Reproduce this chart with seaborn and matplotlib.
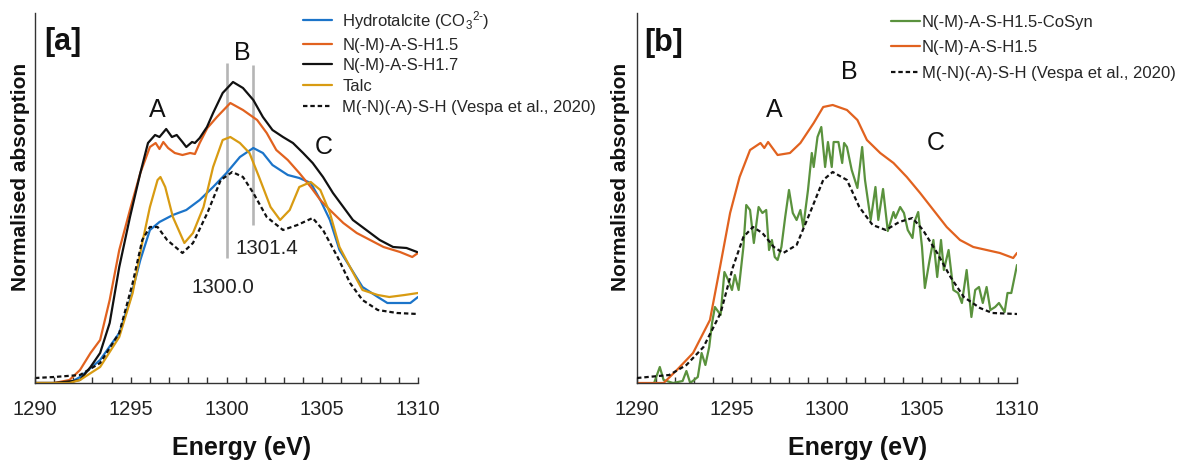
import matplotlib
matplotlib.use("Agg")
import matplotlib.pyplot as plt
import seaborn as sns
import pandas as pd
from matplotlib.ticker import MultipleLocator
from matplotlib.lines import Line2D

# ---------------- data: panel [a] ----------------
hydro_x = [1290, 1291, 1291.8, 1292.35, 1293.4, 1294.4, 1294.96, 1295.5, 1296.0, 1296.5, 1297.2, 1297.9,
           1298.6, 1299.3, 1300.0, 1300.7, 1301.4, 1301.9, 1302.4, 1303.2, 1303.8, 1304.4, 1304.9, 1305.4,
           1305.9, 1306.45, 1307.1, 1307.9, 1308.4, 1309.06, 1309.6, 1310]
hydro_y = [0.0, 0.0, 0.0, 0.06, 0.23, 0.50, 0.83, 1.23, 1.53, 1.61, 1.68, 1.73,
           1.83, 1.96, 2.10, 2.26, 2.35, 2.30, 2.18, 2.08, 2.05, 2.00, 1.83, 1.63,
           1.33, 1.16, 0.96, 0.86, 0.80, 0.80, 0.80, 0.86]

h15a_x = [1290, 1291, 1291.8, 1292.35, 1292.9, 1293.4, 1293.9, 1294.4, 1295.0, 1295.5, 1296.0, 1296.3,
          1296.5, 1296.7, 1296.95, 1297.3, 1297.7, 1298.1, 1298.35, 1298.6, 1299.0, 1299.5, 1300.2,
          1300.86, 1301.6, 1302.1, 1302.6, 1303.2, 1303.8, 1304.4, 1304.9, 1305.4, 1306.1, 1306.8,
          1307.5, 1308.2, 1309.06, 1309.7, 1310]
h15a_y = [0.0, 0.0, 0.03, 0.13, 0.30, 0.43, 0.83, 1.33, 1.76, 2.10, 2.36, 2.40,
          2.34, 2.41, 2.35, 2.30, 2.28, 2.30, 2.29, 2.40, 2.55, 2.66, 2.80,
          2.73, 2.63, 2.50, 2.33, 2.23, 2.10, 1.96, 1.83, 1.73, 1.60, 1.50,
          1.43, 1.36, 1.31, 1.26, 1.30]

h17_x = [1290, 1291, 1292, 1292.35, 1292.9, 1293.4, 1293.9, 1294.4, 1294.96, 1295.5, 1295.9, 1296.27,
         1296.5, 1296.85, 1297.15, 1297.4, 1297.7, 1297.9, 1298.2, 1298.35, 1298.6, 1298.98, 1299.3,
         1299.8, 1300.34, 1300.86, 1301.4, 1301.9, 1302.4, 1302.95, 1303.47, 1304.0, 1304.5, 1305.04,
         1305.56, 1306.1, 1306.6, 1307.3, 1308.0, 1308.7, 1309.4, 1309.95]
h17_y = [0.0, 0.0, 0.02, 0.03, 0.16, 0.30, 0.60, 1.16, 1.66, 2.10, 2.40, 2.48,
         2.46, 2.54, 2.46, 2.48, 2.41, 2.36, 2.41, 2.40, 2.45, 2.56, 2.70,
         2.90, 3.01, 2.95, 2.83, 2.66, 2.53, 2.46, 2.40, 2.30, 2.20, 2.06,
         1.90, 1.76, 1.63, 1.53, 1.43, 1.36, 1.35, 1.31]

talc_x = [1290, 1291, 1291.8, 1292.35, 1293.4, 1294.4, 1295.1, 1295.6, 1296.0, 1296.4, 1296.55, 1296.8,
          1297.2, 1297.8, 1298.25, 1298.8, 1299.3, 1299.8, 1300.2, 1300.7, 1301.2, 1301.7, 1302.3,
          1302.8, 1303.3, 1303.8, 1304.4, 1304.9, 1305.4, 1305.9, 1306.45, 1307.1, 1307.9, 1308.5,
          1309.3, 1310]
talc_y = [0.0, 0.0, 0.0, 0.03, 0.16, 0.46, 0.90, 1.40, 1.76, 2.03, 2.06, 1.96,
          1.66, 1.40, 1.50, 1.76, 2.16, 2.43, 2.46, 2.40, 2.30, 2.06, 1.76,
          1.63, 1.73, 1.96, 2.01, 1.93, 1.70, 1.36, 1.16, 0.93, 0.88, 0.86,
          0.88, 0.90]

ref_a_x = [1290, 1291, 1292.35, 1293.4, 1294.4, 1295.1, 1295.6, 1296.0, 1296.4, 1296.9, 1297.7, 1298.25,
           1299.0, 1299.7, 1300.3, 1300.86, 1301.4, 1302.1, 1302.95, 1303.7, 1304.5, 1305.04, 1305.8,
           1306.45, 1307.1, 1307.9, 1308.9, 1310]
ref_a_y = [0.05, 0.06, 0.08, 0.20, 0.50, 1.00, 1.43, 1.56, 1.56, 1.43, 1.30, 1.40,
           1.70, 2.03, 2.11, 2.06, 1.90, 1.66, 1.53, 1.58, 1.65, 1.53, 1.26,
           1.00, 0.83, 0.73, 0.70, 0.69]

# ---------------- data: panel [b] ----------------
cosyn_x = [1290.9, 1291.2, 1291.4, 1291.9, 1292.4, 1292.6, 1292.8, 1293.2, 1293.4, 1293.6, 1293.8, 1293.95,
           1294.1, 1294.4, 1294.6, 1294.8, 1295.0, 1295.15, 1295.35, 1295.6, 1295.75, 1295.95, 1296.15,
           1296.4, 1296.6, 1296.8, 1296.95, 1297.1, 1297.25, 1297.4, 1297.6, 1297.8, 1298.0, 1298.2,
           1298.4, 1298.6, 1298.75, 1299.0, 1299.2, 1299.3, 1299.5, 1299.7, 1299.9, 1300.05, 1300.25,
           1300.35, 1300.6, 1300.8, 1300.9, 1301.05, 1301.3, 1301.6, 1301.85, 1302.0, 1302.3, 1302.55,
           1302.7, 1302.95, 1303.2, 1303.5, 1303.6, 1303.85, 1304.05, 1304.25, 1304.5, 1304.6, 1304.8,
           1305.0, 1305.15, 1305.4, 1305.6, 1305.8, 1306.0, 1306.15, 1306.4, 1306.65, 1306.9, 1307.1,
           1307.35, 1307.6, 1307.8, 1308.0, 1308.2, 1308.4, 1308.6, 1308.85, 1309.05, 1309.35, 1309.5,
           1309.7, 1310.0]
cosyn_y = [0.0, 0.16, 0.03, 0.0, 0.02, 0.12, 0.0, 0.06, 0.30, 0.18, 0.36, 0.60,
           0.76, 0.68, 1.11, 1.03, 0.93, 1.08, 0.93, 1.36, 1.78, 1.73, 1.40,
           1.76, 1.70, 1.73, 1.33, 1.43, 1.26, 1.23, 1.36, 1.66, 1.93, 1.70,
           1.63, 1.73, 1.56, 1.93, 2.30, 2.16, 2.46, 2.56, 2.16, 2.41, 2.16,
           2.41, 2.41, 2.20, 2.40, 2.36, 2.13, 1.95, 2.36, 2.03, 1.63, 1.96,
           1.63, 1.94, 1.52, 1.71, 1.65, 1.76, 1.70, 1.53, 1.45, 1.61, 1.71,
           1.36, 0.95, 1.23, 1.43, 1.06, 1.43, 1.13, 1.33, 0.93, 0.90, 0.80,
           1.13, 0.66, 0.93, 0.96, 0.80, 0.96, 0.73, 0.76, 0.80, 0.71, 0.90,
           0.90, 1.18]

h15b_x = [1290, 1290.7, 1291.4, 1292.1, 1292.95, 1293.84, 1294.37, 1294.9, 1295.4, 1295.95, 1296.5, 1296.7,
          1296.9, 1297.4, 1298.05, 1298.6, 1299.3, 1299.8, 1300.3, 1301.05, 1301.6, 1302.1, 1302.8,
          1303.5, 1304.2, 1304.9, 1305.6, 1306.3, 1307.0, 1307.7, 1308.4, 1309.1, 1309.8, 1310]
h15b_y = [0.0, 0.0, 0.0, 0.13, 0.30, 0.63, 1.16, 1.70, 2.06, 2.33, 2.40, 2.35,
          2.41, 2.28, 2.30, 2.40, 2.60, 2.76, 2.78, 2.73, 2.63, 2.43, 2.30,
          2.20, 2.06, 1.90, 1.73, 1.56, 1.43, 1.36, 1.33, 1.30, 1.25, 1.30]

ref_b_x = [1290, 1291.7, 1292.6, 1293.5, 1294.4, 1295.05, 1295.6, 1296.1, 1296.6, 1297.2, 1297.7, 1298.4,
           1299.1, 1299.8, 1300.3, 1301.05, 1301.7, 1302.4, 1303.1, 1303.8, 1304.5, 1305.05, 1305.8,
           1306.5, 1307.2, 1308.05, 1308.7, 1310]
ref_b_y = [0.05, 0.08, 0.18, 0.36, 0.70, 1.16, 1.46, 1.56, 1.50, 1.36, 1.30, 1.38,
           1.70, 2.03, 2.11, 2.03, 1.76, 1.58, 1.53, 1.61, 1.65, 1.53, 1.30,
           1.06, 0.86, 0.75, 0.70, 0.69]

labels_a = ["Hydrotalcite (CO$_3$$^{2\u2010}$)", "N(-M)-A-S-H1.5", "N(-M)-A-S-H1.7", "Talc",
            "M(-N)(-A)-S-H (Vespa et al., 2020)"]
labels_b = ["N(-M)-A-S-H1.5-CoSyn", "N(-M)-A-S-H1.5", "M(-N)(-A)-S-H (Vespa et al., 2020)"]
marker_lines = [1300.0, 1301.4]
marker_texts = ["1300.0", "1301.4"]
x_ticks = [1290, 1295, 1300, 1305, 1310]

BLUE = "#1b74c9"
ORANGE = "#e1621f"
BLACK = "#111111"
GOLD = "#d89b12"
GREEN = "#5a923d"

sns.set_theme(style="white")
plt.rcParams["font.family"] = ["Liberation Sans", "DejaVu Sans"]
plt.rcParams["mathtext.fontset"] = "custom"
plt.rcParams["mathtext.rm"] = "Liberation Sans"
plt.rcParams["mathtext.it"] = "Liberation Sans:italic"
plt.rcParams["mathtext.bf"] = "Liberation Sans:bold"

W, H = 1184, 461
fig = plt.figure(figsize=(W / 100, H / 100), dpi=100)
ax_a = fig.add_axes([35 / W, 78 / H, 383 / W, 370 / H])
ax_b = fig.add_axes([637 / W, 78 / H, 380 / W, 370 / H])

LW = 1.6
DASH = (2.0, 1.3)


def draw(ax, xs, ys, color, dashed=False, z=2):
    df = pd.DataFrame({"x": xs, "y": ys})
    sns.lineplot(data=df, x="x", y="y", ax=ax, color=color, linewidth=LW, estimator=None,
                 sort=False, zorder=z, legend=False)
    line = ax.get_lines()[-1]
    if dashed:
        line.set_dashes(DASH)
    return line


# panel a
draw(ax_a, hydro_x, hydro_y, BLUE)
draw(ax_a, h15a_x, h15a_y, ORANGE)
draw(ax_a, h17_x, h17_y, BLACK)
draw(ax_a, talc_x, talc_y, GOLD)
draw(ax_a, ref_a_x, ref_a_y, BLACK, dashed=True)

ax_a.vlines(marker_lines[0], 1.25, 3.20, color="#b5b5b5", linewidth=1.9, zorder=1)
ax_a.vlines(marker_lines[1], 1.58, 3.18, color="#b5b5b5", linewidth=1.9, zorder=1)
ax_a.text(1299.8, 0.96, marker_texts[0], fontsize=14.8, ha="center", va="center", color="#222222")
ax_a.text(1302.1, 1.35, marker_texts[1], fontsize=14.8, ha="center", va="center", color="#222222")
ax_a.text(1296.4, 2.73, "A", fontsize=18, ha="center", va="center", color="#111111")
ax_a.text(1300.8, 3.30, "B", fontsize=18, ha="center", va="center", color="#111111")
ax_a.text(1305.1, 2.36, "C", fontsize=18, ha="center", va="center", color="#111111")
ax_a.text(1291.45, 3.41, "[a]", fontsize=22, fontweight="bold", ha="center", va="center", color="#111111")

# panel b
draw(ax_b, cosyn_x, cosyn_y, GREEN)
draw(ax_b, h15b_x, h15b_y, ORANGE)
draw(ax_b, ref_b_x, ref_b_y, BLACK, dashed=True, z=3)
ax_b.text(1297.2, 2.73, "A", fontsize=18, ha="center", va="center", color="#111111")
ax_b.text(1301.2, 3.11, "B", fontsize=18, ha="center", va="center", color="#111111")
ax_b.text(1305.7, 2.40, "C", fontsize=18, ha="center", va="center", color="#111111")
ax_b.text(1291.4, 3.40, "[b]", fontsize=22, fontweight="bold", ha="center", va="center", color="#111111")

for ax, ylx in ((ax_a, -0.012), (ax_b, -0.018)):
    ax.set_xlim(1290, 1310)
    ax.set_ylim(0, 3.70)
    ax.set_xticks(x_ticks)
    ax.set_xticklabels([str(t) for t in x_ticks])
    ax.xaxis.set_minor_locator(MultipleLocator(1))
    ax.set_yticks([])
    ax.tick_params(axis="x", which="both", direction="in", length=4.5, width=1.0, color="#333333",
                   labelsize=14.5, pad=12, labelcolor="#222222", bottom=True)
    for s in ("top", "right"):
        ax.spines[s].set_visible(False)
    for s in ("left", "bottom"):
        ax.spines[s].set_color("#333333")
        ax.spines[s].set_linewidth(1.0)
    ax.set_xlabel("Energy (eV)", fontsize=18, fontweight="bold", color="#111111")
    ax.set_ylabel("Normalised absorption", fontsize=15, fontweight="bold", color="#111111")
    ax.yaxis.set_label_coords(ylx, 0.557)

ax_a.xaxis.set_label_coords(0.54, -0.143)
ax_b.xaxis.set_label_coords(0.58, -0.143)

# legends
ha_handles = [Line2D([0], [0], color=BLUE, lw=LW), Line2D([0], [0], color=ORANGE, lw=LW),
              Line2D([0], [0], color=BLACK, lw=LW), Line2D([0], [0], color=GOLD, lw=LW),
              Line2D([0], [0], color=BLACK, lw=LW, linestyle=(0, DASH))]
fig.legend(ha_handles, labels_a, loc="upper left", bbox_to_anchor=(303 / W, 1 - 9 / H), frameon=False,
           fontsize=12, handlelength=1.75, handletextpad=0.6, labelspacing=0.34, borderpad=0,
           borderaxespad=0)

hb_handles = [Line2D([0], [0], color=GREEN, lw=LW), Line2D([0], [0], color=ORANGE, lw=LW),
              Line2D([0], [0], color=BLACK, lw=LW, linestyle=(0, DASH))]
fig.legend(hb_handles, labels_b, loc="upper left", bbox_to_anchor=(891 / W, 1 - 15 / H), frameon=False,
           fontsize=12, handlelength=1.75, handletextpad=0.08, labelspacing=0.62, borderpad=0,
           borderaxespad=0)

fig.savefig("out.png", dpi=100)
